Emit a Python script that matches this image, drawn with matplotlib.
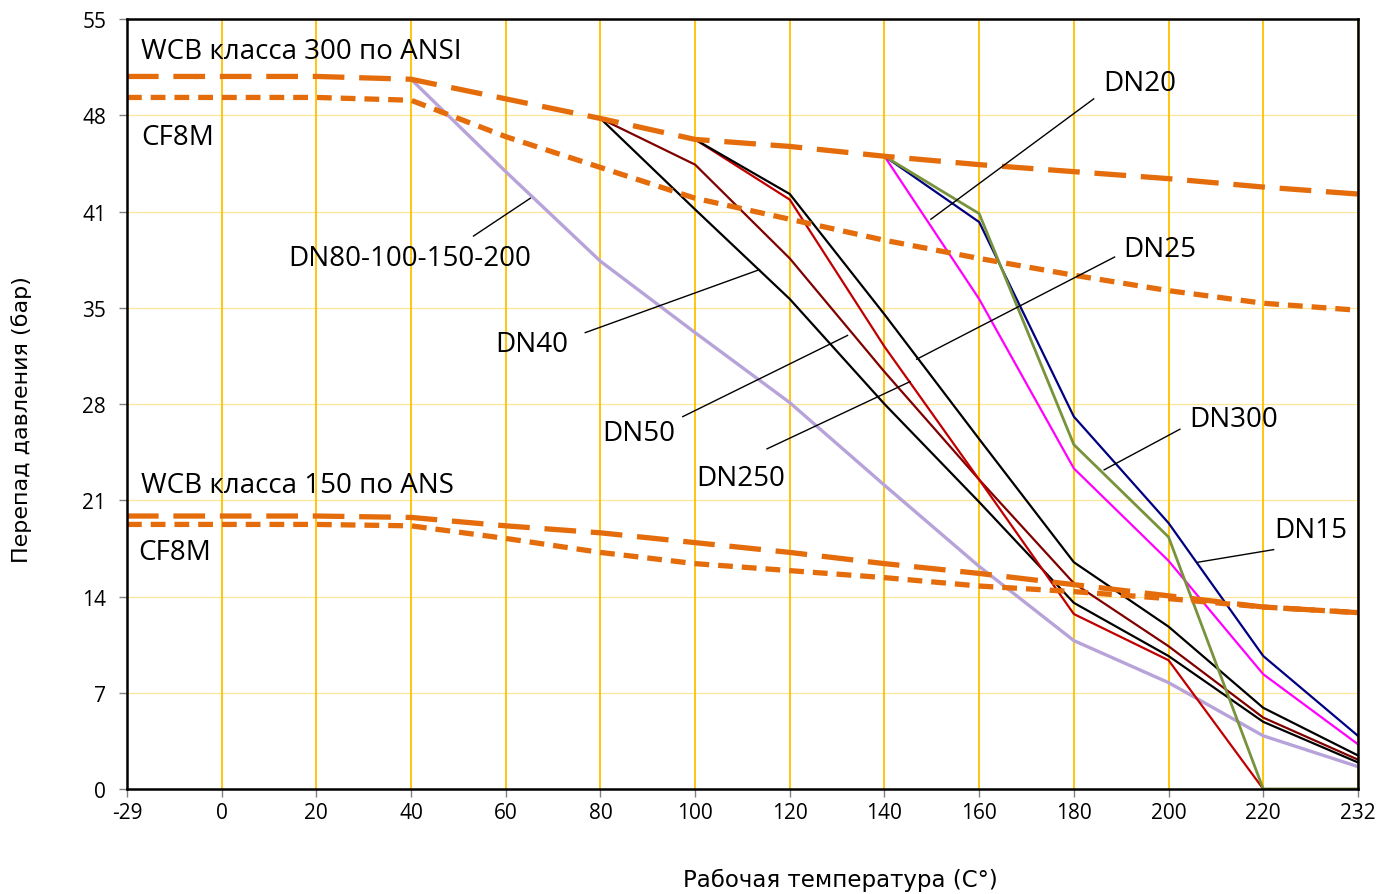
import numpy as np
import matplotlib.pyplot as plt

nan = np.nan

# categories on x axis (evenly spaced)
temps = ['-29', '0', '20', '40', '60', '80', '100', '120', '140', '160', '180', '200', '220', '232']
y_ticks = [0, 7, 14, 21, 28, 35, 41, 48, 55]

# pressure limit curves (bar)
wcb300 = [50.9, 50.9, 50.9, 50.7, 49.3, 47.9, 46.4, 45.9, 45.2, 44.6, 44.1, 43.6, 43.0, 42.5]
cf8m300 = [49.4, 49.4, 49.4, 49.2, 46.6, 44.4, 42.2, 40.7, 39.2, 37.9, 36.7, 35.6, 34.7, 34.2]
wcb150 = [19.5, 19.5, 19.5, 19.4, 18.8, 18.3, 17.6, 16.9, 16.1, 15.4, 14.6, 13.8, 13.0, 12.6]
cf8m150 = [18.9, 18.9, 18.9, 18.8, 17.9, 16.9, 16.1, 15.6, 15.1, 14.5, 14.1, 13.6, 13.0, 12.6]

# differential pressure by nominal size (bar)
dn15 = [nan] * 8 + [45.2, 40.5, 26.6, 19.0, 9.5, 3.8]
dn20 = [nan] * 8 + [45.2, 35.0, 22.9, 16.3, 8.2, 3.2]
dn25 = [nan] * 6 + [46.4, 42.5, 33.9, 25.0, 16.2, 11.6, 5.8, 2.4]
dn40 = [nan] * 5 + [47.9, 41.4, 35.0, 27.5, 20.5, 13.3, 9.5, 4.8, 1.9]
dn50 = [nan] * 5 + [47.9, 44.6, 37.9, 29.8, 22.1, 14.7, 10.2, 5.1, 2.1]
dn80 = [nan] * 3 + [50.7, 44.1, 37.7, 32.6, 27.6, 21.7, 15.9, 10.6, 7.6, 3.8, 1.6]
dn250 = [nan] * 6 + [46.4, 42.1, 31.6, 22.1, 12.5, 9.2, 0.0, 0.0]
dn300 = [nan] * 8 + [45.2, 41.1, 24.6, 18.0, 0.0, 0.0]

x = np.arange(len(temps))
font = ['Open Sans', 'DejaVu Sans']

fig = plt.figure(figsize=(13.8, 8.95), dpi=100)
ax = fig.add_axes([0.092, 0.1173, 0.892, 0.8603])

# grid
for xi in x:
    ax.axvline(xi, color='#FFC000', lw=1.3, zorder=1)
for yt in np.linspace(0, 55, 9):
    ax.axhline(yt, color='#FFE699', lw=0.9, zorder=0.5)

# DN lines
ax.plot(x, dn80, color='#B7A3D9', lw=2.4, zorder=3)
ax.plot(x, dn40, color='black', lw=1.6, zorder=3)
ax.plot(x, dn50, color='#800000', lw=1.6, zorder=3)
ax.plot(x, dn250, color='#C00000', lw=1.6, zorder=3)
ax.plot(x, dn25, color='black', lw=1.6, zorder=3)
ax.plot(x, dn20, color='#FF00FF', lw=1.6, zorder=3)
ax.plot(x, dn15, color='#000080', lw=1.6, zorder=3)
ax.plot(x, dn300, color='#77933C', lw=2.0, zorder=3)

# limit curves
orange = '#E46C0A'
ax.plot(x, wcb300, color=orange, lw=3.8, dashes=(6, 2.8), zorder=4)
ax.plot(x, cf8m300, color=orange, lw=3.8, dashes=(2.8, 1.7), zorder=4)
ax.plot(x, wcb150, color=orange, lw=3.8, dashes=(6, 2.8), zorder=4)
ax.plot(x, cf8m150, color=orange, lw=3.8, dashes=(2.8, 1.7), zorder=4)

ax.set_xlim(0, len(temps) - 1)
ax.set_ylim(0, 55)
ax.set_xticks(x)
ax.set_xticklabels(temps, family=font, fontsize=15)
ax.set_yticks(np.linspace(0, 55, 9))
ax.set_yticklabels([str(v) for v in y_ticks], family=font, fontsize=15)
ax.tick_params(axis='both', length=6, color='#808080', width=1)
ax.tick_params(axis='y', pad=9)
ax.tick_params(axis='x', pad=3)
for s in ax.spines.values():
    s.set_linewidth(1.8)
    s.set_color('black')
    s.set_zorder(6)

# curve labels
ax.text(0.15, 52.7, 'WCB класса 300 по ANSI', family=font, fontsize=20, va='center')
ax.text(0.15, 46.6, 'CF8M', family=font, fontsize=20, va='center')
ax.text(0.15, 21.7, 'WCB класса 150 по ANS', family=font, fontsize=20, va='center')
ax.text(0.12, 16.9, 'CF8M', family=font, fontsize=20, va='center')

# DN labels with leader lines: (text, text pos, line start, line end)
labels = [
    ('DN80-100-150-200', (2.99, 37.9), (3.66, 39.5), (4.26, 42.2)),
    ('DN40', (4.28, 31.8), (4.84, 32.6), (6.68, 37.1)),
    ('DN50', (5.40, 25.4), (5.87, 26.6), (7.61, 32.4)),
    ('DN250', (6.48, 22.2), (6.76, 24.3), (8.27, 29.1)),
    ('DN25', (10.91, 38.6), (10.43, 38.0), (8.34, 30.7)),
    ('DN20', (10.70, 50.4), (10.21, 49.3), (8.49, 40.7)),
    ('DN300', (11.69, 26.4), (11.12, 25.7), (10.32, 22.8)),
    ('DN15', (12.50, 18.5), (12.11, 17.1), (11.31, 16.2)),
]
for txt, tpos, p0, p1 in labels:
    ax.text(tpos[0], tpos[1], txt, family=font, fontsize=20, ha='center', va='center', zorder=7)
    ax.plot([p0[0], p1[0]], [p0[1], p1[1]], color='black', lw=1.0, zorder=5)

fig.text(840 / 1380, 1 - 880 / 895, 'Рабочая температура (C°)', fontsize=16.5,
         ha='center', va='center')
fig.text(22 / 1380, 1 - 420 / 895, 'Перепад давления (бар)', fontsize=16,
         ha='center', va='center', rotation=90)

plt.savefig('out.png', dpi=100)
